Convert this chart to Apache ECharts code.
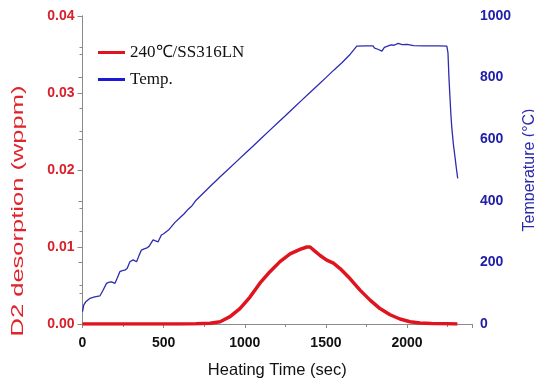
<!DOCTYPE html>
<html><head><meta charset="utf-8">
<script src="https://cdn.jsdelivr.net/npm/echarts@6/dist/echarts.min.js"></script>
<style>html,body{margin:0;padding:0;background:#fff}#c{width:534px;height:384px}</style>
</head><body><div id="c"></div>
<script>
// Temperature (°C) vs heating time (sec)
var tempTime = [0, 8, 20, 45, 75, 107, 125, 148, 165, 179, 200, 215, 230, 245, 261, 275, 292, 312, 333, 348, 363, 380, 394, 410, 435, 450, 466, 486, 500, 511, 530, 548, 570, 600, 625, 650, 675, 700, 725, 750, 775, 800, 825, 850, 875, 900, 950, 1000, 1050, 1100, 1150, 1200, 1250, 1300, 1350, 1400, 1450, 1500, 1550, 1600, 1650, 1690, 1750, 1790, 1800, 1820, 1845, 1860, 1880, 1900, 1920, 1945, 1970, 2000, 2040, 2100, 2200, 2245, 2252, 2258, 2264, 2270, 2275, 2285, 2295, 2305, 2312];
var tempValue = [40, 62, 72, 83, 88, 91, 108, 132, 136, 137, 132, 150, 170, 173, 175, 180, 202, 208, 202, 222, 240, 244, 246, 252, 273, 270, 267, 289, 293, 295, 305, 316, 330, 345, 357, 372, 384, 402, 415, 428, 441, 454, 466, 479, 491, 503, 528, 553, 577, 602, 627, 652, 676, 701, 726, 751, 775, 800, 825, 849, 876, 902, 903, 903, 896, 892, 886, 898, 902, 906, 905, 911, 907, 908, 904, 903, 903, 902, 880, 800, 738, 680, 641, 585, 543, 500, 473];
// D2 desorption (wppm) vs heating time (sec)
var desTime = [0, 600, 700, 786, 848, 909, 970, 1032, 1093, 1155, 1217, 1279, 1340, 1382, 1402, 1430, 1464, 1505, 1546, 1587, 1648, 1710, 1772, 1833, 1895, 1956, 2018, 2080, 2150, 2250, 2310];
var desValue = [0, 0, 0.00002, 0.0001, 0.0003, 0.00095, 0.0020, 0.0035, 0.0053, 0.0068, 0.0081, 0.0091, 0.0097, 0.0100, 0.0100, 0.0095, 0.0089, 0.0083, 0.0079, 0.0072, 0.0059, 0.0044, 0.0031, 0.0020, 0.0012, 0.00065, 0.0003, 0.00012, 0.00005, 0.00002, 0];
var xTicks = [0, 500, 1000, 1500, 2000];
var leftTicks = ['0.00', '0.01', '0.02', '0.03', '0.04'];
var rightTicks = ['0', '200', '400', '600', '800', '1000'];

function zip(a, b) { return a.map(function (v, i) { return [v, b[i]]; }); }

var RED = '#e0141e', BLUE = '#2c2cb0', GREY = '#8a8a8a';
var chart = echarts.init(document.getElementById('c'), null, {renderer: 'canvas'});
chart.setOption({
  animation: false,
  grid: {left: 82.5, right: 62, top: 16, bottom: 60, outerBoundsMode: 'none', containLabel: false},
  legend: {
    orient: 'vertical', left: 93, top: 39, itemWidth: 27, itemHeight: 3, itemGap: 10, icon: 'rect',
    textStyle: {fontFamily: 'Liberation Serif', fontSize: 17, color: '#111', lineHeight: 17},
    data: [{name: '240℃/SS316LN', icon: 'rect'}, {name: 'Temp.', icon: 'rect'}]
  },
  xAxis: [{
    type: 'value', min: 0, max: 2400, interval: 500,
    name: 'Heating Time (sec)', nameLocation: 'middle', nameGap: 38,
    nameTextStyle: {fontFamily: 'Liberation Sans', fontSize: 16.5, color: '#111'},
    axisLine: {lineStyle: {color: GREY}},
    axisTick: {length: 4, lineStyle: {color: GREY}},
    minorTick: {show: true, splitNumber: 2, length: 3, lineStyle: {color: GREY}},
    axisLabel: {fontFamily: 'Liberation Sans', fontWeight: 'bold', fontSize: 14, color: '#111', margin: 12, showMaxLabel: false,
      formatter: function (v) { return xTicks.indexOf(v) >= 0 ? String(v) : ''; }},
    splitLine: {show: false}
  }, {
    type: 'value', min: 0, max: 2400, interval: 500, position: 'top',
    axisLine: {show: true, lineStyle: {color: GREY}},
    axisTick: {show: true, inside: true, length: 4, lineStyle: {color: GREY}},
    minorTick: {show: true, splitNumber: 2, length: 3, lineStyle: {color: GREY}},
    axisLabel: {show: false}, splitLine: {show: false}
  }],
  yAxis: [{
    type: 'value', min: 0, max: 0.04, interval: 0.01, position: 'left',
    axisLine: {show: true, lineStyle: {color: GREY}},
    axisTick: {show: true, length: 5, lineStyle: {color: GREY}},
    minorTick: {show: true, splitNumber: 2, length: 3, lineStyle: {color: GREY}},
    axisLabel: {fontFamily: 'Liberation Sans', fontWeight: 'bold', fontSize: 14, color: '#d8202a', margin: 8,
      formatter: function (v) { return leftTicks[Math.round(v / 0.01)]; }},
    splitLine: {show: false}
  }, {
    type: 'value', min: 0, max: 1000, interval: 200, position: 'right',
    name: 'Temperature (°C)', nameLocation: 'middle', nameRotate: 90, nameGap: 48,
    nameTextStyle: {fontFamily: 'Liberation Sans', fontSize: 16, color: '#2a2ab0'},
    axisLine: {show: true, lineStyle: {color: GREY}},
    axisTick: {show: true, inside: true, length: 4, lineStyle: {color: GREY}},
    minorTick: {show: true, splitNumber: 2, length: 3, lineStyle: {color: GREY}},
    axisLabel: {fontFamily: 'Liberation Sans', fontWeight: 'bold', fontSize: 14, color: '#2020a8', margin: 8,
      formatter: function (v) { return rightTicks[Math.round(v / 200)]; }},
    splitLine: {show: false}
  }],
  graphic: [{
    type: 'text', x: 18, y: 211, rotation: Math.PI / 2, scaleX: 1.5, scaleY: 1,
    style: {text: 'D2 desorption (wppm)', fill: '#e0242c', fontFamily: 'Liberation Sans', fontSize: 17,
      align: 'center', verticalAlign: 'middle', textAlign: 'center', textVerticalAlign: 'middle'}
  }],
  series: [{
    name: '240℃/SS316LN', type: 'line', xAxisIndex: 0, yAxisIndex: 0, symbol: 'none',
    data: zip(desTime, desValue), lineStyle: {color: RED, width: 3.5}, itemStyle: {color: RED}, z: 3
  }, {
    name: 'Temp.', type: 'line', xAxisIndex: 0, yAxisIndex: 1, symbol: 'none',
    data: zip(tempTime, tempValue), lineStyle: {color: BLUE, width: 1.3}, itemStyle: {color: '#1a1ad8'}, z: 2
  }]
});
</script></body></html>
